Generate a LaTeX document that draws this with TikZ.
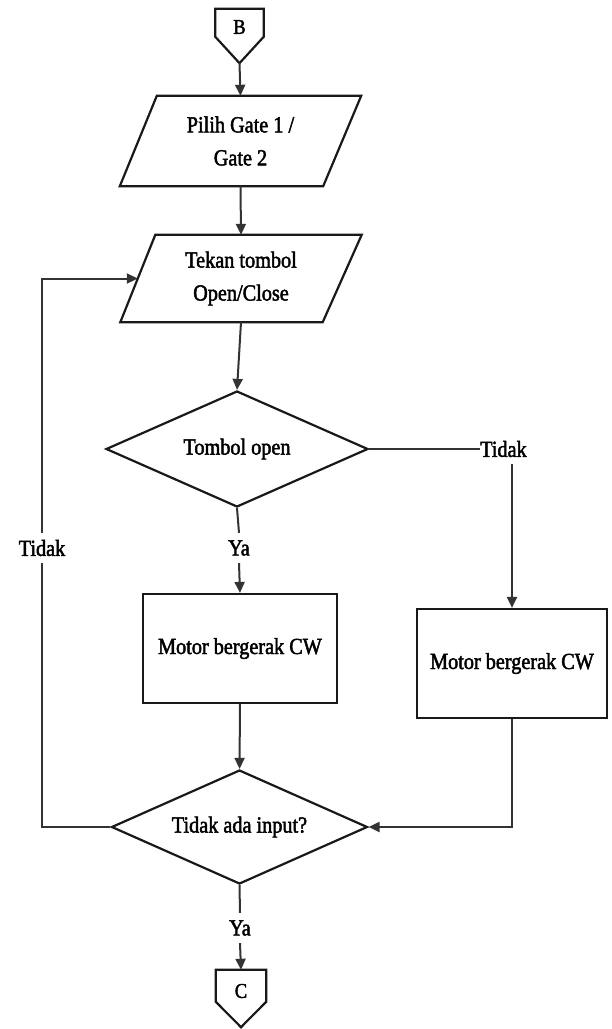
\documentclass[tikz,border=0pt]{standalone}
\usepackage{fontspec}
\setmainfont{Liberation Serif}[FakeStretch=0.88, FakeBold=2]
\usetikzlibrary{arrows.meta,shapes.geometric,calc}

\begin{document}
\begin{tikzpicture}[x=1pt,y=-1pt,
  conn/.style={line width=2pt, draw=black!80},
  arr/.style={conn, -{Triangle[length=11pt,width=10pt]}},
  outline/.style={line width=2.2pt, draw=black!90, line join=miter},
  txt/.style={font=\fontsize{23}{33}\selectfont, align=center, inner sep=0pt},
  decision/.style={diamond, outline, txt, aspect=2.25, inner sep=2pt},
  process/.style={rectangle, outline, txt, minimum width=194pt, minimum height=109pt},
  iobox/.style={rectangle, txt, minimum width=241pt},
  offpage/.style={rectangle, inner sep=0pt, minimum width=48pt},
  tag/.style={txt, minimum height=30pt}
]
\useasboundingbox (0,0) rectangle (612,1029);

% off-page connector B
\node[offpage, minimum height=54pt] (B) at (239.5,36) {};
\draw[outline] (B.north west) -- (B.north east) -- ($(B.north east)+(0,28)$)
  -- (B.south) -- ($(B.north west)+(0,28)$) -- cycle;
\node[txt, font=\fontsize{21}{24}\selectfont] (Btxt) at (239.5,27) {B};

% input: gate selection
\node[iobox, minimum height=90pt] (p1) at (240.5,141) {Pilih Gate 1 /\\Gate 2};
\draw[outline] ($(p1.north west)+(37,0)$) -- (p1.north east)
  -- ($(p1.south east)+(-38,0)$) -- (p1.south west) -- cycle;

% input: open/close button
\node[iobox, minimum height=87pt] (p2) at (241,278.5) {Tekan tombol\\Open/Close};
\draw[outline] ($(p2.north west)+(35,0)$) -- (p2.north east)
  -- ($(p2.south east)+(-39,0)$) -- (p2.south west) -- cycle;
\coordinate (p2in) at ($(p2.west)+(17.5,0)$);

% decisions
\node[decision, minimum width=262pt, minimum height=116pt] (d1) at (237,449) {Tombol open};
\node[decision, minimum width=256pt, minimum height=114pt] (d2) at (239.5,827) {Tidak ada input?};

% processes
\node[process] (b1) at (240,648.5) {Motor bergerak CW};
\node[process, minimum width=190pt] (b2) at (512,663.5) {Motor bergerak CW};

% branch labels
\node[tag, anchor=west] (tR) at (480,449) {Tidak};
\node[tag] (yes1) at (239,548) {Ya};
\node[tag] (tL) at (42,548) {Tidak};
\node[tag] (yes2) at (240,928) {Ya};

% off-page connector C
\node[offpage, minimum width=50pt, minimum height=57pt] (C) at (241,998.5) {};
\draw[outline] (C.north west) -- (C.north east) -- ($(C.north east)+(0,32)$)
  -- (C.south) -- ($(C.north west)+(0,32)$) -- cycle;
\node[txt, font=\fontsize{21}{24}\selectfont] (Ctxt) at (241,991) {C};

% flow lines
\draw[arr] (B.south) -- (p1.north);
\draw[arr] (p1.south) -- (p2.north);
\draw[arr] (p2.south) -- (d1.north);
\draw[conn] (d1.south) -- (yes1.north);
\draw[arr] (yes1.south) -- (b1.north);
\draw[conn] (d1.east) -- (tR.west);
\draw[arr] (tR.south -| b2.north) -- (b2.north);
\draw[arr] (b1.south) -- (d2.north);
\draw[arr] (b2.south) -- (b2.south |- d2.east) -- (d2.east);
\draw[conn] (d2.west) -- (d2.west -| tL.south) -- (tL.south);
\draw[arr] (tL.north) -- (tL.north |- p2in) -- (p2in);
\draw[conn] (d2.south) -- (yes2.north);
\draw[arr] (yes2.south) -- (C.north);
\end{tikzpicture}
\end{document}
